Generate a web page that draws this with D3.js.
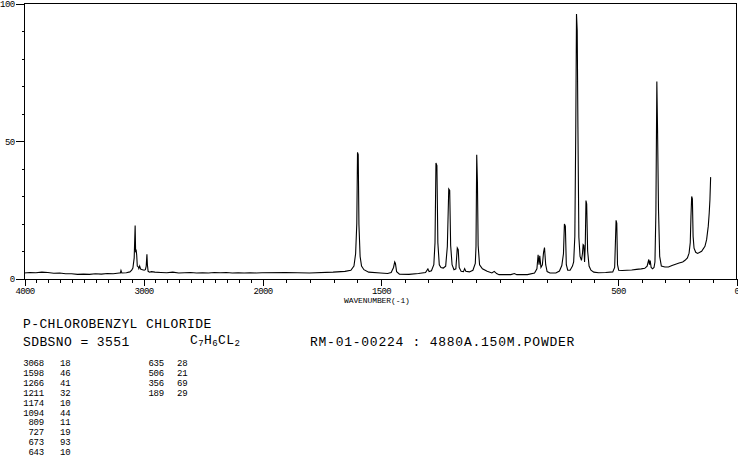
<!DOCTYPE html>
<html>
<head>
<meta charset="utf-8">
<script src="https://cdn.jsdelivr.net/npm/d3@7"></script>
<style>
  html, body { margin: 0; padding: 0; background: #fff; }
  svg { display: block; }
  .mono { font-family: "Liberation Mono", "DejaVu Sans Mono", monospace; fill: #000; }
</style>
</head>
<body>
<svg id="chart" width="738" height="457"></svg>
<script>
// ---- Data (wavenumber cm-1, relative intensity) ----
const wavenumbers = [
  4000, 3950, 3900, 3850, 3800, 3750, 3700, 3650, 3600, 3550, 3500, 3450, 3400, 3350, 3300, 3250,
  3200, 3190, 3185, 3178, 3140, 3110, 3095, 3085, 3074, 3066, 3062, 3058, 3053, 3048, 3040, 3035,
  3028, 3020, 3005, 2990, 2980, 2973, 2967, 2963, 2957, 2945, 2930, 2900, 2850, 2800, 2750, 2700,
  2650, 2600, 2550, 2500, 2450, 2400, 2350, 2300, 2250, 2200, 2150, 2100, 2050, 2000,
  1900, 1800, 1700, 1650, 1625, 1612, 1605, 1600, 1597, 1594, 1591, 1586, 1580, 1570, 1550, 1500,
  1470, 1455, 1445, 1440, 1437, 1432, 1420, 1380, 1340, 1310, 1300, 1295, 1285, 1275, 1270, 1266,
  1262, 1258, 1252, 1245, 1235, 1225, 1218, 1212, 1208, 1204, 1198, 1190, 1182, 1176, 1172, 1168,
  1160, 1150, 1145, 1140, 1125, 1110, 1100, 1097, 1094, 1091, 1088, 1082, 1070, 1050, 1030, 1020,
  1010, 1000, 950, 935, 925, 880, 850, 840, 835, 831, 828, 823, 817, 812, 808, 803,
  797, 785, 760, 745, 735, 728, 724, 720, 716, 710, 700, 690, 685, 680, 676, 673,
  670, 667, 663, 658, 652, 648, 645, 642, 639, 636, 633, 630, 626, 620, 612, 600,
  580, 550, 520, 512, 506, 503, 500, 495, 480, 460, 440, 420, 400, 385, 375, 368,
  365, 362, 358, 352, 346, 342, 338, 334, 331, 327, 322, 315, 300, 285, 270, 255,
  240, 225, 215, 205, 198, 193, 190, 187, 184, 181, 177, 170, 162, 145, 131, 124,
  117, 113, 110, 107
];
const intensities = [
  2.0, 2.2, 2.1, 2.3, 2.2, 1.9, 2.0, 1.7, 1.7, 1.5, 1.6, 1.5, 1.7, 1.6, 1.8, 1.7,
  2.0, 2.0, 2.9, 2.0, 2.1, 2.4, 3.0, 3.8, 7.5, 19.2, 9.5, 10.5, 8.5, 4.5, 4.2, 3.6,
  4.5, 3.4, 3.2, 3.0, 3.2, 4.5, 8.8, 5.0, 2.6, 2.3, 2.5, 2.3, 2.2, 2.1, 2.3, 2.0,
  2.1, 2.2, 2.0, 2.1, 2.0, 2.2, 2.1, 2.2, 2.0, 2.1, 2.0, 2.1, 2.0, 2.1,
  2.2, 2.0, 2.3, 2.6, 3.0, 4.5, 9.0, 20.0, 45.8, 45.0, 19.6, 8.0, 4.5, 3.2, 2.3, 2.0,
  1.8, 2.2, 4.0, 6.0, 5.5, 2.5, 1.6, 1.5, 1.8, 2.2, 3.5, 2.5, 2.8, 5.0, 13.0, 41.9,
  41.0, 13.0, 5.0, 4.0, 3.8, 4.5, 11.6, 32.5, 32.0, 12.0, 5.0, 3.2, 3.5, 11.1, 10.5, 4.0,
  2.6, 2.5, 3.6, 2.6, 2.4, 3.0, 5.5, 11.7, 44.9, 35.0, 12.0, 5.0, 3.5, 2.6, 2.0, 2.6,
  1.8, 1.4, 1.4, 1.8, 1.4, 1.4, 2.0, 3.5, 8.6, 5.0, 8.2, 4.0, 5.0, 9.5, 11.2, 5.0,
  2.5, 2.0, 2.0, 2.7, 4.7, 9.0, 19.8, 19.0, 5.0, 3.0, 3.0, 4.5, 6.0, 15.3, 55.0, 96.0,
  90.0, 55.0, 15.0, 8.0, 6.6, 9.0, 12.3, 12.0, 6.0, 12.0, 28.3, 27.0, 10.0, 4.5, 3.0, 2.3,
  2.1, 2.2, 2.4, 4.0, 21.1, 20.0, 5.0, 3.0, 2.9, 3.0, 3.1, 3.3, 3.5, 3.7, 4.5, 6.9,
  5.0, 6.5, 4.0, 3.5, 4.0, 6.0, 24.0, 71.5, 54.0, 25.0, 8.0, 4.5, 4.2, 4.2, 4.7, 5.2,
  5.6, 6.0, 6.6, 7.5, 9.2, 13.0, 22.6, 29.8, 28.9, 15.3, 11.0, 9.5, 9.1, 9.9, 11.7, 14.1,
  19.0, 23.8, 28.6, 36.8
];

// Axis tick values and labels
const xMinorTicks = d3.range(0, 4001, 100);
const xMajorTicks = [4000, 3000, 2000, 1500, 500, 0];
const yMinorTicks = d3.range(0, 101, 10);
const yMajorTicks = [0, 50, 100];
const xAxisTitle = "WAVENUMBER(-1)";

// Header texts
const compoundName = "P-CHLOROBENZYL CHLORIDE";
const sdbsNo = "SDBSNO = 3551";
const formulaParts = [["C", false], ["7", true], ["H", false], ["6", true], ["CL", false], ["2", true]];
const measurement = "RM-01-00224 : 4880A.150M.POWDER";

// Peak table
const peakWaves1 = ["3068", "1598", "1266", "1211", "1174", "1094", "809", "727", "673", "643"];
const peakInts1  = ["18", "46", "41", "32", "10", "44", "11", "19", "93", "10"];
const peakWaves2 = ["635", "506", "356", "189"];
const peakInts2  = ["28", "21", "69", "29"];

// ---- Drawing ----
const svg = d3.select("#chart");
svg.append("rect").attr("width", 738).attr("height", 457).attr("fill", "#fff");

const x = d3.scaleLinear().domain([4000, 2000, 0]).range([24, 262, 736]);
const y = d3.scaleLinear().domain([0, 100]).range([278.5, 3]);

// frame
svg.append("rect")
  .attr("x", x(4000) + 0.5).attr("y", y(100) + 0.5)
  .attr("width", x(0) - x(4000)).attr("height", y(0) - y(100))
  .attr("fill", "none").attr("stroke", "#000").attr("stroke-width", 1)
  .attr("shape-rendering", "crispEdges");

function styleAxis(g) {
  g.select(".domain").remove();
  g.selectAll("line").attr("stroke", "#000").attr("shape-rendering", "crispEdges");
  g.selectAll("text").attr("class", "mono").attr("fill", "#000")
    .style("font-size", "9px").style("letter-spacing", "-0.6px");
}

svg.append("g").attr("transform", `translate(0.5,${y(0) + 0.5})`)
  .call(d3.axisBottom(x).tickValues(xMinorTicks).tickSize(4).tickFormat(""))
  .call(styleAxis);
svg.append("g").attr("transform", `translate(0.5,${y(0) + 0.5})`)
  .call(d3.axisBottom(x).tickValues(xMajorTicks).tickSize(7).tickPadding(2).tickFormat(d3.format("d")))
  .call(styleAxis);

svg.append("g").attr("transform", `translate(${x(4000) + 0.5},0.5)`)
  .call(d3.axisLeft(y).tickValues(yMinorTicks).tickSize(3).tickFormat(""))
  .call(styleAxis);
svg.append("g").attr("transform", `translate(${x(4000) + 0.5},0.5)`)
  .call(d3.axisLeft(y).tickValues(yMajorTicks).tickSize(9).tickPadding(1).tickFormat(d3.format("d")))
  .call(styleAxis);

svg.append("text").attr("class", "mono")
  .attr("x", 344).attr("y", 303)
  .style("font-size", "8px").style("letter-spacing", "-0.1px")
  .text(xAxisTitle);

// spectrum
const pts = wavenumbers.map((w, i) => [w, intensities[i]]);
svg.append("path")
  .datum(pts)
  .attr("fill", "none").attr("stroke", "#000").attr("stroke-width", 1.1)
  .attr("stroke-linejoin", "miter")
  .attr("d", d3.line().x(d => x(d[0])).y(d => y(d[1])));

// header lines
svg.append("text").attr("class", "mono").attr("x", 23).attr("y", 328)
  .style("font-size", "13px").style("letter-spacing", "0.4px").text(compoundName);
svg.append("text").attr("class", "mono").attr("x", 23).attr("y", 346)
  .style("font-size", "13px").style("letter-spacing", "0.4px").text(sdbsNo);
const ft = svg.append("text").attr("class", "mono").attr("x", 190).attr("y", 346)
  .style("font-size", "13px").style("letter-spacing", "0.4px");
formulaParts.forEach(([t, sub]) => {
  ft.append("tspan").attr("dy", sub ? 2 : (ft.selectAll("tspan").size() > 0 ? -2 : 0))
    .style("font-size", sub ? "9px" : "13px").text(t);
});
svg.append("text").attr("class", "mono").attr("x", 310).attr("y", 346)
  .style("font-size", "13px").style("letter-spacing", "0.75px").text(measurement);

// peak table
const rowY = i => 366 + i * 9.9;
function tableCol(vals, xPos, anchor) {
  svg.append("g").selectAll("text").data(vals).join("text")
    .attr("class", "mono").attr("x", xPos).attr("y", (d, i) => rowY(i))
    .attr("text-anchor", anchor)
    .style("font-size", "9px").style("letter-spacing", "-0.2px")
    .text(d => d);
}
tableCol(peakWaves1, 44, "end");
tableCol(peakInts1, 60, "start");
tableCol(peakWaves2, 164, "end");
tableCol(peakInts2, 177, "start");
</script>
</body>
</html>
